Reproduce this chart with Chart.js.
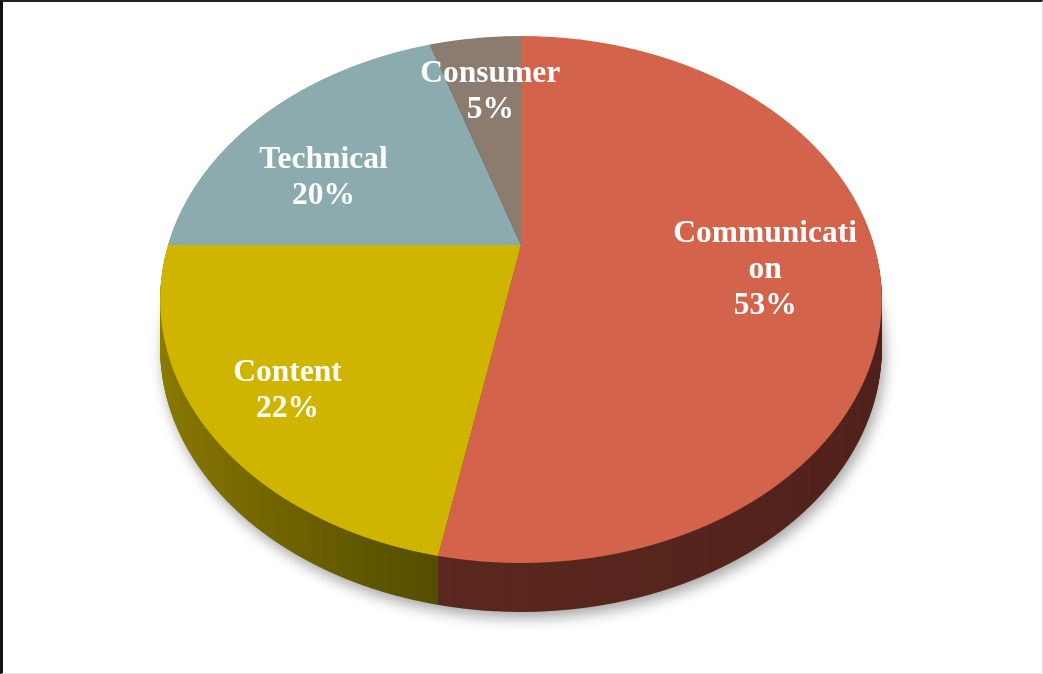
<!DOCTYPE html>
<html>
<head>
<meta charset="utf-8">
<script src="https://cdn.jsdelivr.net/npm/chart.js@4.4.0/dist/chart.umd.min.js"></script>
<style>
html, body { margin: 0; padding: 0; background: #fff; }
#wrap { position: relative; width: 1043px; height: 674px; overflow: hidden; }
#frame { position: absolute; left: 0; top: 0; width: 1043px; height: 674px; box-sizing: border-box;
    border-left: 3px solid #111; border-top: 2px solid #222; border-right: 1px solid #ddd; border-bottom: 1px solid #e6e6e6;
    pointer-events: none; }
</style>
</head>
<body>
<div id="wrap"><canvas id="myChart" width="1043" height="674"></canvas><div id="frame"></div></div>
<script>
// data
var categories = ['Communication', 'Content', 'Technical', 'Consumer'];
var values = [53, 22, 20, 5];

// look
var topColors = ['#D3644B', '#CFB500', '#8BABAE', '#8C7B6F'];
var labelRadius = [0.68, 0.78, 0.66, 0.72];
var labelShift = [[2, 9], [3, 6], [-23, 23], [4, 3]];

// perspective of the tilted pie (screen px)
var CX = 521, AY = 245, HX = 353, HY = 252.2, TILT = 0.2068, DEPTH = 49;

function projY(m) { return AY + HY * m / (1 - TILT * m); }
function invY(y) { var w = (y - AY) / HY; return w / (1 + TILT * w); }

function sideColors(ctx, ex, R) {
    var g1 = ctx.createLinearGradient(ex - R, 0, ex + R, 0);
    g1.addColorStop(0, '#5e2c22');
    g1.addColorStop(0.4, '#5a281f');
    g1.addColorStop(1, '#50221b');
    var g2 = ctx.createLinearGradient(ex - R, 0, ex + R, 0);
    g2.addColorStop(0, '#8f7e00');
    g2.addColorStop(0.4, '#564e00');
    g2.addColorStop(1, '#4e4700');
    return [g1, g2, '#4a5e60', '#4e443d'];
}

// draw the library's arcs row by row, each row with its own scale
function drawFace(ctx, chart, colors) {
    var arcs = chart.getDatasetMeta(0).data;
    var ex = arcs[0].x, ey = arcs[0].y, R = arcs[0].outerRadius;
    var W = chart.width;
    var y0 = Math.floor(projY(-1)) - 1, y1 = Math.ceil(projY(1)) + 1;
    for (var j = y0; j < y1; j++) {
        var m0 = invY(j), m1 = invY(j + 1);
        var a = 1 / (m1 - m0);
        var bx = HX / (1 - TILT * (m0 + m1) / 2);
        var sx = bx / R, sy = a / R;
        ctx.save();
        ctx.setTransform(1, 0, 0, 1, 0, 0);
        ctx.beginPath();
        ctx.rect(0, j, W, 1);
        ctx.clip();
        ctx.setTransform(sx, 0, 0, sy, CX - ex * sx, j - a * m0 - ey * sy);
        for (var i = 0; i < arcs.length; i++) {
            var p = Object.create(arcs[i]);
            p.options = Object.assign({}, arcs[i].options, {backgroundColor: colors[i], borderWidth: 0});
            arcs[i].draw.call(p, ctx);
        }
        ctx.restore();
    }
}

function wrap(name) {
    var out = [];
    for (var k = 0; k < name.length; k += 11) out.push(name.slice(k, k + 11));
    return out;
}

function drawLabels(ctx, chart) {
    var arcs = chart.getDatasetMeta(0).data;
    var total = values.reduce(function (s, v) { return s + v; }, 0);
    ctx.save();
    ctx.setTransform(1, 0, 0, 1, 0, 0);
    ctx.font = 'bold 31.5px "Liberation Serif"';
    ctx.fillStyle = '#fff';
    ctx.textAlign = 'center';
    ctx.textBaseline = 'middle';
    for (var i = 0; i < arcs.length; i++) {
        var mid = (arcs[i].startAngle + arcs[i].endAngle) / 2;
        var n = labelRadius[i] * Math.cos(mid), m = labelRadius[i] * Math.sin(mid);
        var x = CX + HX * n / (1 - TILT * m) + labelShift[i][0];
        var y = projY(m) + labelShift[i][1];
        var lines = wrap(categories[i]).concat([Math.round(values[i] / total * 100) + '%']);
        for (var l = 0; l < lines.length; l++) {
            ctx.fillText(lines[l], x, y + (l - (lines.length - 1) / 2) * 36);
        }
    }
    ctx.restore();
}

var pie3d = {
    id: 'pie3d',
    beforeDatasetsDraw: function (chart) {
        var ctx = chart.ctx;
        var arcs = chart.getDatasetMeta(0).data;
        var off = document.createElement('canvas');
        off.width = chart.width;
        off.height = chart.height;
        var octx = off.getContext('2d');
        drawFace(octx, chart, sideColors(octx, arcs[0].x, arcs[0].outerRadius));

        ctx.save();
        ctx.setTransform(1, 0, 0, 1, 0, 0);
        ctx.shadowColor = 'rgba(0,0,0,0.35)';
        ctx.shadowBlur = 14;
        ctx.shadowOffsetX = 3;
        ctx.shadowOffsetY = 6;
        ctx.drawImage(off, 0, DEPTH);
        ctx.shadowColor = 'transparent';
        for (var d = DEPTH - 1; d >= 1; d--) ctx.drawImage(off, 0, d);
        ctx.restore();

        drawFace(ctx, chart, topColors);
        drawLabels(ctx, chart);
        return false;
    }
};

var ctx = document.getElementById('myChart');
var myChart = new Chart(ctx, {
    type: 'pie',
    data: {
        labels: categories,
        datasets: [{
            data: values,
            backgroundColor: topColors,
            borderWidth: 0
        }]
    },
    options: {
        responsive: false,
        animation: false,
        plugins: {
            legend: {display: false},
            tooltip: {enabled: false}
        }
    },
    plugins: [pie3d]
});
</script>
</body>
</html>
